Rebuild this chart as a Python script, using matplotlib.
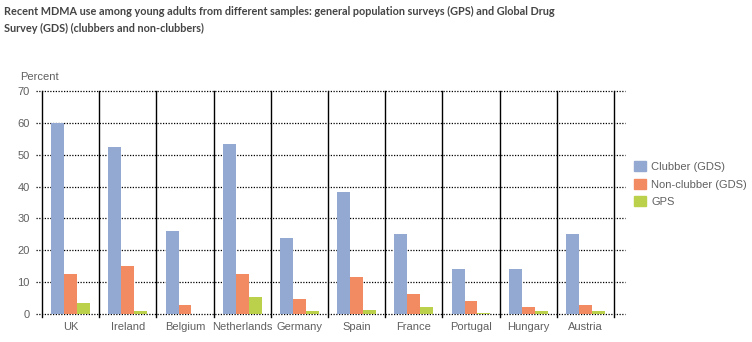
import numpy as np
import matplotlib.pyplot as plt
from matplotlib.patches import Patch

countries = ['UK', 'Ireland', 'Belgium', 'Netherlands', 'Germany', 'Spain',
             'France', 'Portugal', 'Hungary', 'Austria']
clubber = [59.9, 52.5, 25.9, 53.5, 23.7, 38.4, 25.2, 14.2, 14.2, 25.2]
non_clubber = [12.7, 15.2, 2.9, 12.7, 4.8, 11.7, 6.4, 4.2, 2.3, 2.9]
gps = [3.6, 1.0, 0.0, 5.4, 1.0, 1.4, 2.3, 0.4, 1.0, 1.0]
yticks = [0, 10, 20, 30, 40, 50, 60, 70]

c_club = '#93a9d1'
c_non = '#f28a62'
c_gps = '#bbd14c'
txt = '#606060'

plt.rcParams['font.family'] = ['Liberation Sans', 'DejaVu Sans']

fig = plt.figure(figsize=(7.52, 3.42), dpi=100)
ax = fig.add_axes([42 / 752, 28 / 342, 572 / 752, 223 / 342])

x = np.arange(len(countries)) + 0.5
w = 0.227
ax.bar(x - w, clubber, w, color=c_club, zorder=3)
ax.bar(x, non_clubber, w, color=c_non, zorder=3)
ax.bar(x + w, gps, w, color=c_gps, zorder=3)

ax.set_xlim(0, len(countries))
ax.set_ylim(0, 70)

# dotted horizontal grid extending a bit past the frame
for t in yticks:
    ax.plot([-0.1, len(countries) + 0.2], [t, t], color='black', lw=0.9,
            ls=(0, (1, 1.2)), clip_on=False, zorder=2)
# solid vertical separators between countries
for i in range(len(countries) + 1):
    ax.plot([i, i], [-0.8, 70], color='black', lw=1.0, clip_on=False, zorder=2)

for s in ax.spines.values():
    s.set_visible(False)
ax.set_yticks(yticks)
ax.set_xticks(x)
ax.set_xticklabels(countries)
ax.tick_params(axis='both', length=0, colors=txt, labelsize=8)
ax.tick_params(axis='y', pad=9)
ax.tick_params(axis='x', pad=6)

fig.text(20 / 752, 1 - 77 / 342, 'Percent', fontsize=8, color=txt, va='center')

title_font = dict(fontsize=7.8, fontweight='bold', color='#444444', va='center',
                  family=['Lato', 'Liberation Sans'])
fig.text(4 / 752, 1 - 11 / 342,
         'Recent MDMA use among young adults from different samples: general population surveys (GPS) and Global Drug',
         **title_font)
fig.text(4 / 752, 1 - 28 / 342,
         'Survey (GDS) (clubbers and non-clubbers)', **title_font)

handles = [Patch(color=c_club, label='Clubber (GDS)'),
           Patch(color=c_non, label='Non-clubber (GDS)'),
           Patch(color=c_gps, label='GPS')]
leg = fig.legend(handles=handles, loc='upper left',
                 bbox_to_anchor=(630 / 752, 1 - 157 / 342), frameon=False,
                 fontsize=8, handlelength=1.0, handleheight=1.0,
                 handletextpad=0.5, labelspacing=0.6, borderaxespad=0)
for t in leg.get_texts():
    t.set_color(txt)

fig.savefig('out.png', dpi=100)
